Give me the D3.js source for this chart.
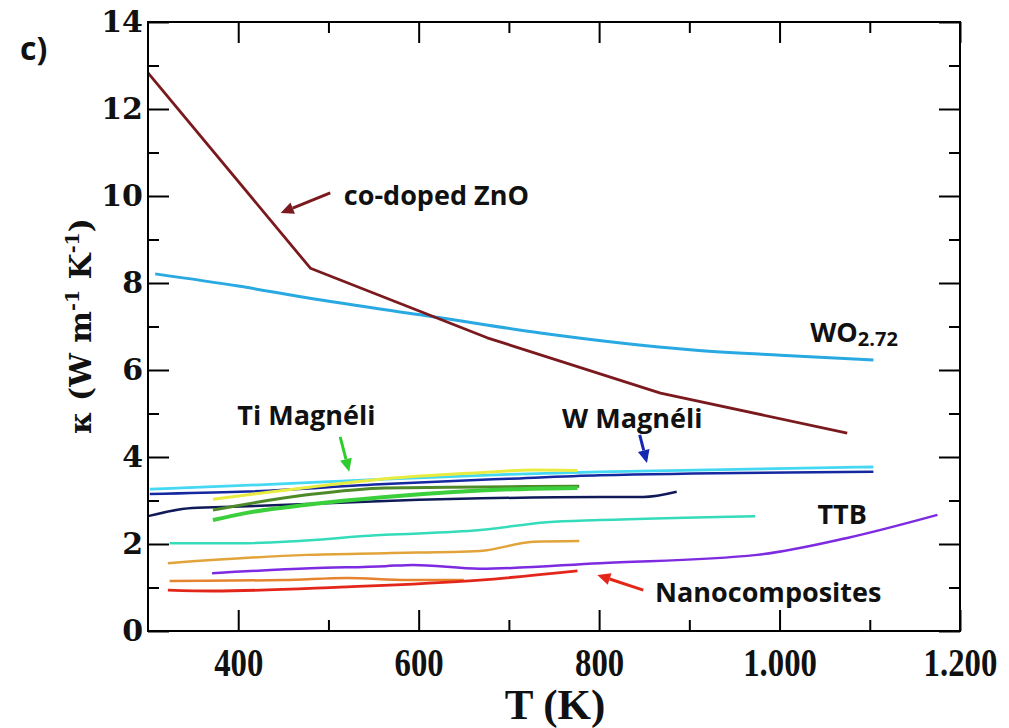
<!DOCTYPE html>
<html lang='en'>
<head>
<meta charset='UTF-8'>
<title>Thermal conductivity vs T</title>
<script src='https://d3js.org/d3.v7.min.js'></script>
<style>
  body { margin: 0; background: #fff; }
  svg { display: block; }
  .ann { font-family: 'Open Sans', sans-serif; font-weight: 700; fill: #111; }
</style>
</head>
<body>
<svg width='1009' height='728'></svg>
<script>
// values: [T (K), kappa (W m-1 K-1)]
var znoCoDoped = [[300,12.83],[480,8.34],[676,6.74],[868,5.47],[1075,4.55]];
var wo272 = [[308,8.21],[400,7.93],[476,7.66],[624,7.2],[735,6.85],[904,6.46],[1001,6.34],[1104,6.23]];
var wMagneliA = [[302,3.26],[435,3.37],[563,3.49],[700,3.6],[801,3.66],[1104,3.77]];
var wMagneliB = [[302,3.15],[402,3.2],[563,3.38],[700,3.5],[801,3.58],[1104,3.66]];
var wMagneliC = [[300,2.64],[349,2.83],[402,2.86],[563,2.99],[801,3.08],[849,3.08],[886,3.2]];
var tiMagneliA = [[372,3.03],[476,3.3],[563,3.5],[668,3.64],[727,3.7],[776,3.69]];
var tiMagneliB = [[372,2.78],[476,3.13],[563,3.29],[668,3.31],[778,3.33]];
var tiMagneliC = [[372,2.55],[408,2.71],[476,2.9],[563,3.08],[705,3.26],[776,3.29]];
var ttbA = [[324,2.02],[402,2.02],[563,2.21],[668,2.32],[742,2.5],[801,2.55],[973,2.64]];
var ttbB = [[371,1.33],[480,1.44],[563,1.49],[594,1.52],[668,1.43],[801,1.56],[975,1.75],[1075,2.14],[1175,2.67]];
var nanoA = [[322,1.56],[476,1.75],[563,1.79],[668,1.84],[727,2.05],[778,2.07]];
var nanoB = [[324,1.15],[450,1.17],[521,1.22],[587,1.17],[650,1.17]];
var nanoC = [[322,0.94],[372,0.92],[513,1.01],[668,1.17],[776,1.38]];

var xMajor = [400, 600, 800, 1000, 1200];
var xMinor = [500, 700, 900, 1100];
var yMajor = [0, 2, 4, 6, 8, 10, 12, 14];
var yMinor = [1, 3, 5, 7, 9, 11, 13];

var series = [
  {d: ttbA, c: '#35dcbc', w: 2.5},
  {d: nanoA, c: '#e2a33a', w: 2.5},
  {d: ttbB, c: '#7d2ae0', w: 2.5},
  {d: nanoB, c: '#e5832e', w: 2.5},
  {d: nanoC, c: '#e3261a', w: 2.8},
  {d: wMagneliC, c: '#101a58', w: 2.5},
  {d: tiMagneliB, c: '#4f8a2a', w: 3},
  {d: tiMagneliC, c: '#3ccf3c', w: 4},
  {d: wMagneliB, c: '#1428a0', w: 2.5},
  {d: wMagneliA, c: '#45d8f2', w: 2.8},
  {d: tiMagneliA, c: '#e8ec40', w: 3},
  {d: wo272, c: '#29a9e1', w: 3},
  {d: znoCoDoped, c: '#7b1a1e', w: 2.8, linear: true}
];

var svg = d3.select('svg');
var x = d3.scaleLinear().domain([300, 1200]).range([148, 960]);
var y = d3.scaleLinear().domain([0, 14]).range([631, 22]);

var eu = d3.formatLocale({decimal: ',', thousands: '.', grouping: [3], currency: ['', '']}).format(',');

var line = d3.line().x(d => x(d[0])).y(d => y(d[1]));

series.forEach(s => {
  svg.append('path')
    .datum(s.d)
    .attr('fill', 'none')
    .attr('stroke', s.c)
    .attr('stroke-width', s.w)
    .attr('stroke-linejoin', 'round')
    .attr('d', line.curve(s.linear ? d3.curveLinear : d3.curveMonotoneX));
});

// axes, ticks pointing inward on all sides
function styleAxis(sel) {
  sel.select('.domain').remove();
  sel.selectAll('line').attr('stroke', '#000').attr('stroke-width', 2);
}
svg.append('g').attr('transform', 'translate(0,631)')
  .call(d3.axisBottom(x).tickValues(xMajor).tickSize(-21).tickPadding(17).tickFormat(eu))
  .call(styleAxis)
  .selectAll('text')
  .attr('font-family', "'Liberation Serif', serif")
  .attr('font-weight', 'bold')
  .attr('font-size', 40)
  .attr('fill', '#111')
  .attr('transform', 'scale(0.82,1)');
svg.append('g').attr('transform', 'translate(0,631)')
  .call(d3.axisBottom(x).tickValues(xMinor).tickSize(-11).tickFormat(''))
  .call(styleAxis);
svg.append('g').attr('transform', 'translate(0,22)')
  .call(d3.axisTop(x).tickValues(xMajor).tickSize(-21).tickFormat(''))
  .call(styleAxis);
svg.append('g').attr('transform', 'translate(0,22)')
  .call(d3.axisTop(x).tickValues(xMinor).tickSize(-11).tickFormat(''))
  .call(styleAxis);

svg.append('g').attr('transform', 'translate(148,0)')
  .call(d3.axisLeft(y).tickValues(yMajor).tickSize(-21).tickPadding(5))
  .call(styleAxis)
  .selectAll('text')
  .attr('font-family', "'DejaVu Serif', serif")
  .attr('font-weight', 'bold')
  .attr('font-size', 30)
  .attr('fill', '#111');
svg.append('g').attr('transform', 'translate(148,0)')
  .call(d3.axisLeft(y).tickValues(yMinor).tickSize(-11).tickFormat(''))
  .call(styleAxis);
svg.append('g').attr('transform', 'translate(960,0)')
  .call(d3.axisRight(y).tickValues(yMajor).tickSize(-21).tickFormat(''))
  .call(styleAxis);
svg.append('g').attr('transform', 'translate(960,0)')
  .call(d3.axisRight(y).tickValues(yMinor).tickSize(-11).tickFormat(''))
  .call(styleAxis);

svg.append('rect')
  .attr('x', 148).attr('y', 22).attr('width', 812).attr('height', 609)
  .attr('fill', 'none').attr('stroke', '#000').attr('stroke-width', 2);

// axis titles
svg.append('text')
  .attr('transform', 'translate(555,719)')
  .attr('text-anchor', 'middle')
  .attr('font-family', "'Liberation Serif', serif")
  .attr('font-weight', 'bold')
  .attr('font-size', 43)
  .attr('fill', '#111')
  .text('T (K)');

var yt = svg.append('text')
  .attr('transform', 'translate(91,326) rotate(-90)')
  .attr('text-anchor', 'middle')
  .attr('font-family', "'DejaVu Serif', serif")
  .attr('font-weight', 'bold')
  .attr('font-size', 30)
  .attr('fill', '#111');
yt.append('tspan').text('\u03BA (W m');
yt.append('tspan').attr('font-size', 19).attr('dy', -12).text('-1');
yt.append('tspan').attr('dy', 12).text(' K');
yt.append('tspan').attr('font-size', 19).attr('dy', -12).text('-1');
yt.append('tspan').attr('dy', 12).text(')');

svg.append('text').attr('class', 'ann')
  .attr('x', 20).attr('y', 60).attr('font-size', 32).text('c)');

// annotations
var labels = [
  {t: 'co-doped ZnO', p: [517, 9.79]},
  {t: 'Ti Magn\u00e9li', p: [399, 4.74]},
  {t: 'W Magn\u00e9li', p: [759, 4.67]},
  {t: 'TTB', p: [1042, 2.46]},
  {t: 'Nanocomposites', p: [862, 0.67]}
];
labels.forEach(l => {
  svg.append('text').attr('class', 'ann')
    .attr('x', x(l.p[0])).attr('y', y(l.p[1]))
    .attr('font-size', 27)
    .text(l.t);
});
var wo = svg.append('text').attr('class', 'ann')
  .attr('x', x(1034)).attr('y', y(6.64)).attr('font-size', 27);
wo.append('tspan').text('WO');
wo.append('tspan').attr('font-size', 20).attr('dy', 4).text('2.72');

var arrows = [
  {from: [502, 10.07], to: [447, 9.61], c: '#7b1a1e'},
  {from: [513, 4.46], to: [523, 3.66], c: '#2ecc2e'},
  {from: [845, 4.51], to: [853, 3.86], c: '#1428b0'},
  {from: [849, 0.94], to: [798, 1.29], c: '#e3261a'}
];
arrows.forEach(a => {
  var x1 = x(a.from[0]), y1 = y(a.from[1]), x2 = x(a.to[0]), y2 = y(a.to[1]);
  var ang = Math.atan2(y2 - y1, x2 - x1), L = 13, W = 6;
  var bx = x2 - L * Math.cos(ang), by = y2 - L * Math.sin(ang);
  svg.append('line')
    .attr('x1', x1).attr('y1', y1).attr('x2', bx).attr('y2', by)
    .attr('stroke', a.c).attr('stroke-width', 3);
  svg.append('path')
    .attr('d', 'M' + x2 + ',' + y2 +
      'L' + (bx + W * Math.sin(ang)) + ',' + (by - W * Math.cos(ang)) +
      'L' + (bx - W * Math.sin(ang)) + ',' + (by + W * Math.cos(ang)) + 'Z')
    .attr('fill', a.c);
});
</script>
</body>
</html>
